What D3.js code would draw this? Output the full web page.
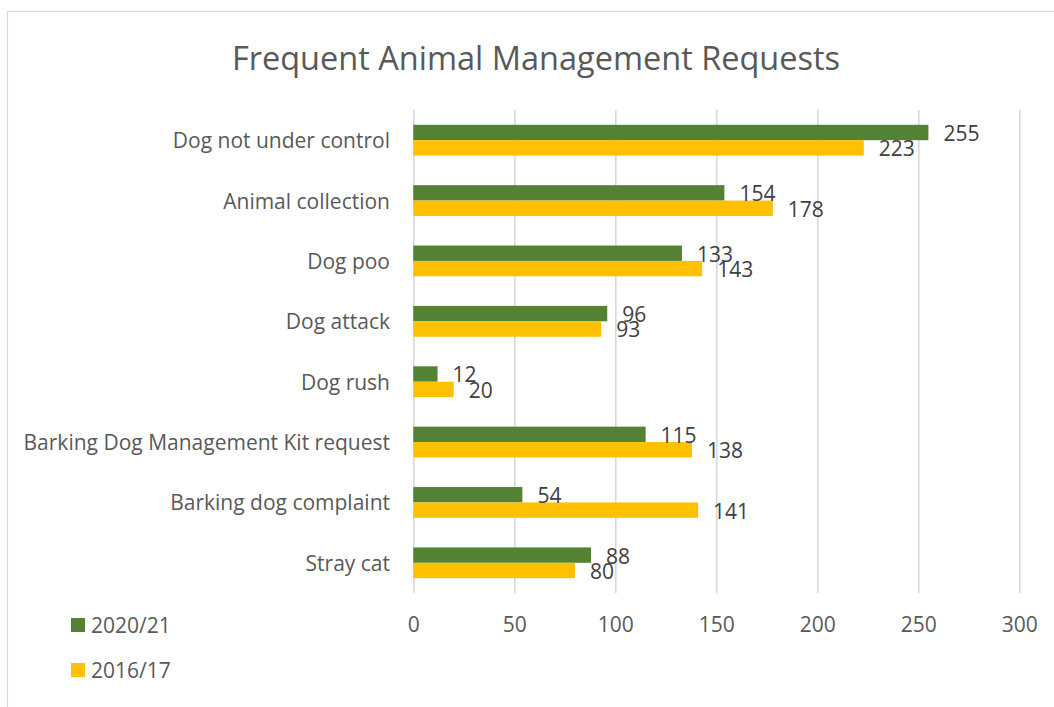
<!DOCTYPE html>
<html>
<head>
<meta charset="utf-8">
<script src="https://cdn.jsdelivr.net/npm/d3@7.9.0/dist/d3.min.js"></script>
<style>
  body { margin: 0; background: #fff; }
  svg { font-family: "Open Sans", sans-serif; }
</style>
</head>
<body>
<svg id="chart" width="1054" height="707"></svg>
<script>
// data
const categories = ["Dog not under control", "Animal collection", "Dog poo", "Dog attack",
  "Dog rush", "Barking Dog Management Kit request", "Barking dog complaint", "Stray cat"];
const seriesNames = ["2020/21", "2016/17"];
const values2020 = [255, 154, 133, 96, 12, 115, 54, 88];
const values2016 = [223, 178, 143, 93, 20, 138, 141, 80];
const xTicks = [0, 50, 100, 150, 200, 250, 300];
const colors = ["#548235", "#FFC000"];

const rows = categories.map((c, i) => ({ cat: c, vals: [values2020[i], values2016[i]] }));

const svg = d3.select('#chart');
const plotTop = 110, plotBottom = 593, plotLeft = 413.3, plotRight = 1019.3;

// chart area border
svg.append('rect')
  .attr('x', 7.5).attr('y', 11.5).attr('width', 1060).attr('height', 720)
  .attr('fill', 'none').attr('stroke', '#d9d9d9').attr('stroke-width', 1.2);

// title
svg.append('text')
  .attr('x', 536).attr('y', 57)
  .attr('text-anchor', 'middle').attr('dominant-baseline', 'central')
  .attr('fill', '#595959').style('font-size', '32.5px')
  .text('Frequent Animal Management Requests');

const x = d3.scaleLinear().domain([0, 300]).range([plotLeft, plotRight]);
const y = d3.scaleBand().domain(categories).range([plotTop, plotBottom]).paddingInner(0.49).paddingOuter(0.245);
const ySub = d3.scaleBand().domain([0, 1]).range([0, y.bandwidth()]);

// gridlines + tick labels
const axis = svg.append('g')
  .attr('transform', `translate(0,${plotBottom})`)
  .call(d3.axisBottom(x).tickValues(xTicks).tickSize(-(plotBottom - plotTop)).tickPadding(0));
axis.select('.domain').remove();
axis.selectAll('.tick line').attr('stroke', '#d9d9d9').attr('stroke-width', 1.6);
axis.selectAll('.tick text')
  .attr('y', 32).attr('dy', '0.35em')
  .attr('fill', '#595959').style('font-size', '21px').style('font-family', '"Open Sans", sans-serif');

// category labels
svg.append('g').selectAll('text')
  .data(categories)
  .join('text')
    .attr('x', 390)
    .attr('y', d => y(d) + y.bandwidth() / 2)
    .attr('text-anchor', 'end').attr('dominant-baseline', 'central')
    .attr('fill', '#595959').style('font-size', '21px')
    .text(d => d);

// bars
const groups = svg.append('g').selectAll('g')
  .data(rows)
  .join('g')
    .attr('transform', d => `translate(0,${y(d.cat)})`);

groups.selectAll('rect')
  .data(d => d.vals.map((v, k) => ({ v, k })))
  .join('rect')
    .attr('x', x(0))
    .attr('y', d => ySub(d.k))
    .attr('width', d => x(d.v) - x(0))
    .attr('height', ySub.bandwidth())
    .attr('fill', d => colors[d.k]);

// value labels
groups.selectAll('text')
  .data(d => d.vals.map((v, k) => ({ v, k })))
  .join('text')
    .attr('x', d => x(d.v) + 15)
    .attr('y', d => ySub(d.k) + ySub.bandwidth() / 2 + 0.5)
    .attr('dominant-baseline', 'central')
    .attr('fill', '#404040').style('font-size', '21px')
    .text(d => d.v);

// legend
const legend = svg.append('g').selectAll('g')
  .data(seriesNames)
  .join('g')
    .attr('transform', (d, i) => `translate(71,${618 + i * 45})`);
legend.append('rect')
  .attr('width', 14).attr('height', 14)
  .attr('fill', (d, i) => colors[i]);
legend.append('text')
  .attr('x', 20).attr('y', 7)
  .attr('dominant-baseline', 'central')
  .attr('fill', '#595959').style('font-size', '21px')
  .text(d => d);
</script>
</body>
</html>
